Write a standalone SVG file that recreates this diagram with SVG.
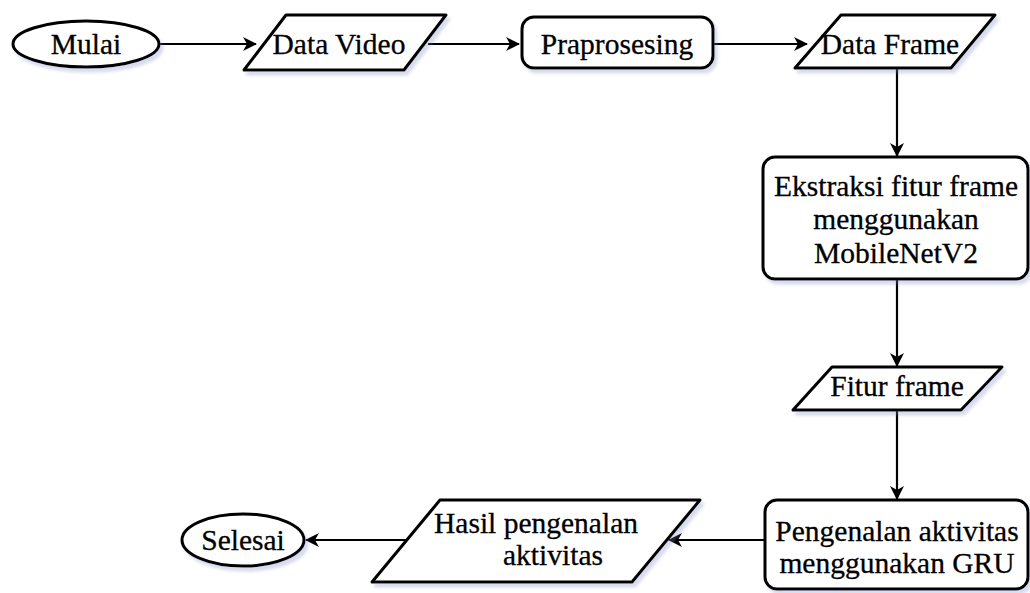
<svg xmlns="http://www.w3.org/2000/svg" width="1030" height="593" viewBox="0 0 1030 593">
  <style>
    .shape { fill: #ffffff; stroke: #000000; stroke-width: 3; stroke-linejoin: round; filter: url(#shadow); }
    .label { font-family: "Liberation Serif", "Times New Roman", serif; font-size: 29.5px; fill: #000000; stroke: #000000; stroke-width: 0.3; text-anchor: middle; }
    .edge { fill: none; stroke: #000000; stroke-width: 2.2; marker-end: url(#arrow); }
  </style>
  <defs>
    <filter id="shadow" x="-10%" y="-10%" width="130%" height="140%">
      <feDropShadow dx="3" dy="4" stdDeviation="1.5" flood-color="#7f88c0" flood-opacity="0.3"/>
    </filter>
    <marker id="arrow" viewBox="0 0 14 14" refX="13" refY="7" markerWidth="14" markerHeight="14" markerUnits="userSpaceOnUse" orient="auto">
      <path d="M0,0 L14,7 L0,14 L4,7 z" fill="#000000"/>
    </marker>
  </defs>
  <rect width="1030" height="593" fill="#ffffff"/>

  <g id="connectors">
    <line class="edge" x1="160" y1="44" x2="256" y2="44"/>
    <line class="edge" x1="428" y1="44" x2="519" y2="44"/>
    <line class="edge" x1="713" y1="44" x2="807" y2="44"/>
    <line class="edge" x1="897" y1="68" x2="897" y2="156"/>
    <line class="edge" x1="897" y1="279" x2="897" y2="366"/>
    <line class="edge" x1="897" y1="410" x2="897" y2="499"/>
    <line class="edge" x1="765" y1="540" x2="669" y2="540"/>
    <line class="edge" x1="406" y1="540" x2="306" y2="540"/>
  </g>

  <g id="mulai">
    <ellipse class="shape" cx="86" cy="44" rx="73" ry="23"/>
    <text class="label" x="86" y="54">Mulai</text>
  </g>

  <g id="data-video">
    <path class="shape" d="M286,15 L446,15 L404,70 L244,70 Z"/>
    <text class="label" x="339" y="54">Data Video</text>
  </g>

  <g id="praprosesing">
    <rect class="shape" x="522" y="17" width="191" height="51" rx="12"/>
    <text class="label" x="617" y="54">Praprosesing</text>
  </g>

  <g id="data-frame">
    <path class="shape" d="M841,15 L995,15 L951,68 L795,68 Z"/>
    <text class="label" x="890" y="54">Data Frame</text>
  </g>

  <g id="ekstraksi">
    <rect class="shape" x="763" y="157" width="265" height="122" rx="12"/>
    <text class="label" x="896" y="196">Ekstraksi fitur frame</text>
    <text class="label" x="896" y="229">menggunakan</text>
    <text class="label" x="896" y="263">MobileNetV2</text>
  </g>

  <g id="fitur-frame">
    <path class="shape" d="M832,367 L1002,367 L961,410 L793,410 Z"/>
    <text class="label" x="897" y="396">Fitur frame</text>
  </g>

  <g id="pengenalan">
    <rect class="shape" x="765" y="500" width="263" height="89" rx="12"/>
    <text class="label" x="897" y="541">Pengenalan aktivitas</text>
    <text class="label" x="897" y="573">menggunakan GRU</text>
  </g>

  <g id="hasil">
    <path class="shape" d="M440,500 L700,500 L632,582 L372,582 Z"/>
    <text class="label" x="536" y="533">Hasil pengenalan</text>
    <text class="label" x="553" y="565">aktivitas</text>
  </g>

  <g id="selesai">
    <ellipse class="shape" cx="243" cy="540" rx="61" ry="26"/>
    <text class="label" x="243" y="550">Selesai</text>
  </g>
</svg>
